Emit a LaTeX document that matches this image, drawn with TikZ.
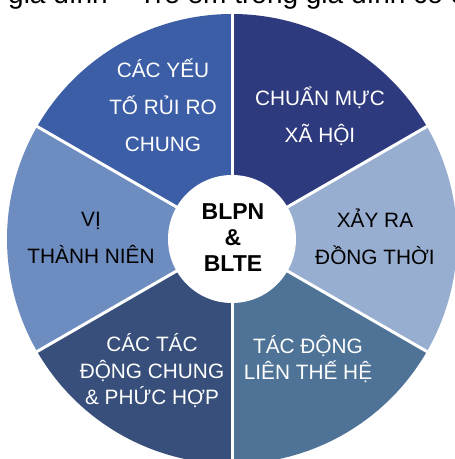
\documentclass[tikz,border=0pt]{standalone}
\usepackage{fontspec}
\setmainfont{Liberation Sans}
\definecolor{cA}{RGB}{60,94,166}
\definecolor{cB}{RGB}{46,58,126}
\definecolor{cC}{RGB}{152,174,208}
\definecolor{cD}{RGB}{78,115,151}
\definecolor{cE}{RGB}{55,79,122}
\definecolor{cF}{RGB}{109,140,192}
\tikzset{
  lbl/.style={align=center,inner sep=0pt,font=\fontsize{20.8}{37}\selectfont},
  lbltight/.style={align=center,inner sep=0pt,font=\fontsize{20.8}{26.5}\selectfont},
  sep/.style={white,line width=3pt},
}
\begin{document}
\begin{tikzpicture}[x=1pt,y=1pt]
\useasboundingbox (0,0) rectangle (455,459);
\clip (0,0) rectangle (455,459);
\coordinate (c) at (232,220);
% sectors
\fill[cB] (c) -- ([shift={(30:225)}]c) arc[start angle=30,end angle=90,radius=225] -- cycle;
\fill[cA] (c) -- ([shift={(90:225)}]c) arc[start angle=90,end angle=150,radius=225] -- cycle;
\fill[cF] (c) -- ([shift={(150:225)}]c) arc[start angle=150,end angle=210,radius=225] -- cycle;
\fill[cE] (c) -- ([shift={(210:225)}]c) arc[start angle=210,end angle=270,radius=225] -- cycle;
\fill[cD] (c) -- ([shift={(270:225)}]c) arc[start angle=270,end angle=330,radius=225] -- cycle;
\fill[cC] (c) -- ([shift={(-30:225)}]c) arc[start angle=-30,end angle=30,radius=225] -- cycle;
% separators
\foreach \a in {30,90,150,210,270,330}
  \draw[sep] (c) -- ([shift={(\a:230)}]c);
% centre
\fill[white] (c) circle[radius=64];
\node[align=center,inner sep=0pt,font=\fontsize{23}{26}\selectfont\bfseries] (hub) at (233,221) {BLPN\\\&\\BLTE};
% labels
\node[lbl,white] (risk) at (163,354) {CÁC YẾU\\TỐ RỦI RO\\CHUNG};
\node[lbl,white] (norm) at (320,343) {CHUẨN MỰC\\XÃ HỘI};
\node[lbl,black] (conc) at (375,222) {XẢY RA\\ĐỒNG THỜI};
\node[lbltight,white] (inter) at (308,100) {TÁC ĐỘNG\\LIÊN THẾ HỆ};
\node[lbltight,white] (comb) at (152,88) {CÁC TÁC\\ĐỘNG CHUNG\\\& PHỨC HỢP};
\node[lbl,black] (teen) at (91,221) {VỊ\\THÀNH NIÊN};
% cut-off text line at the top
\node[anchor=base west,inner sep=0pt,font=\fontsize{28}{30}\selectfont] (top) at (8,455) {gia đình – Trẻ em trong gia đình có ch};
\end{tikzpicture}
\end{document}
